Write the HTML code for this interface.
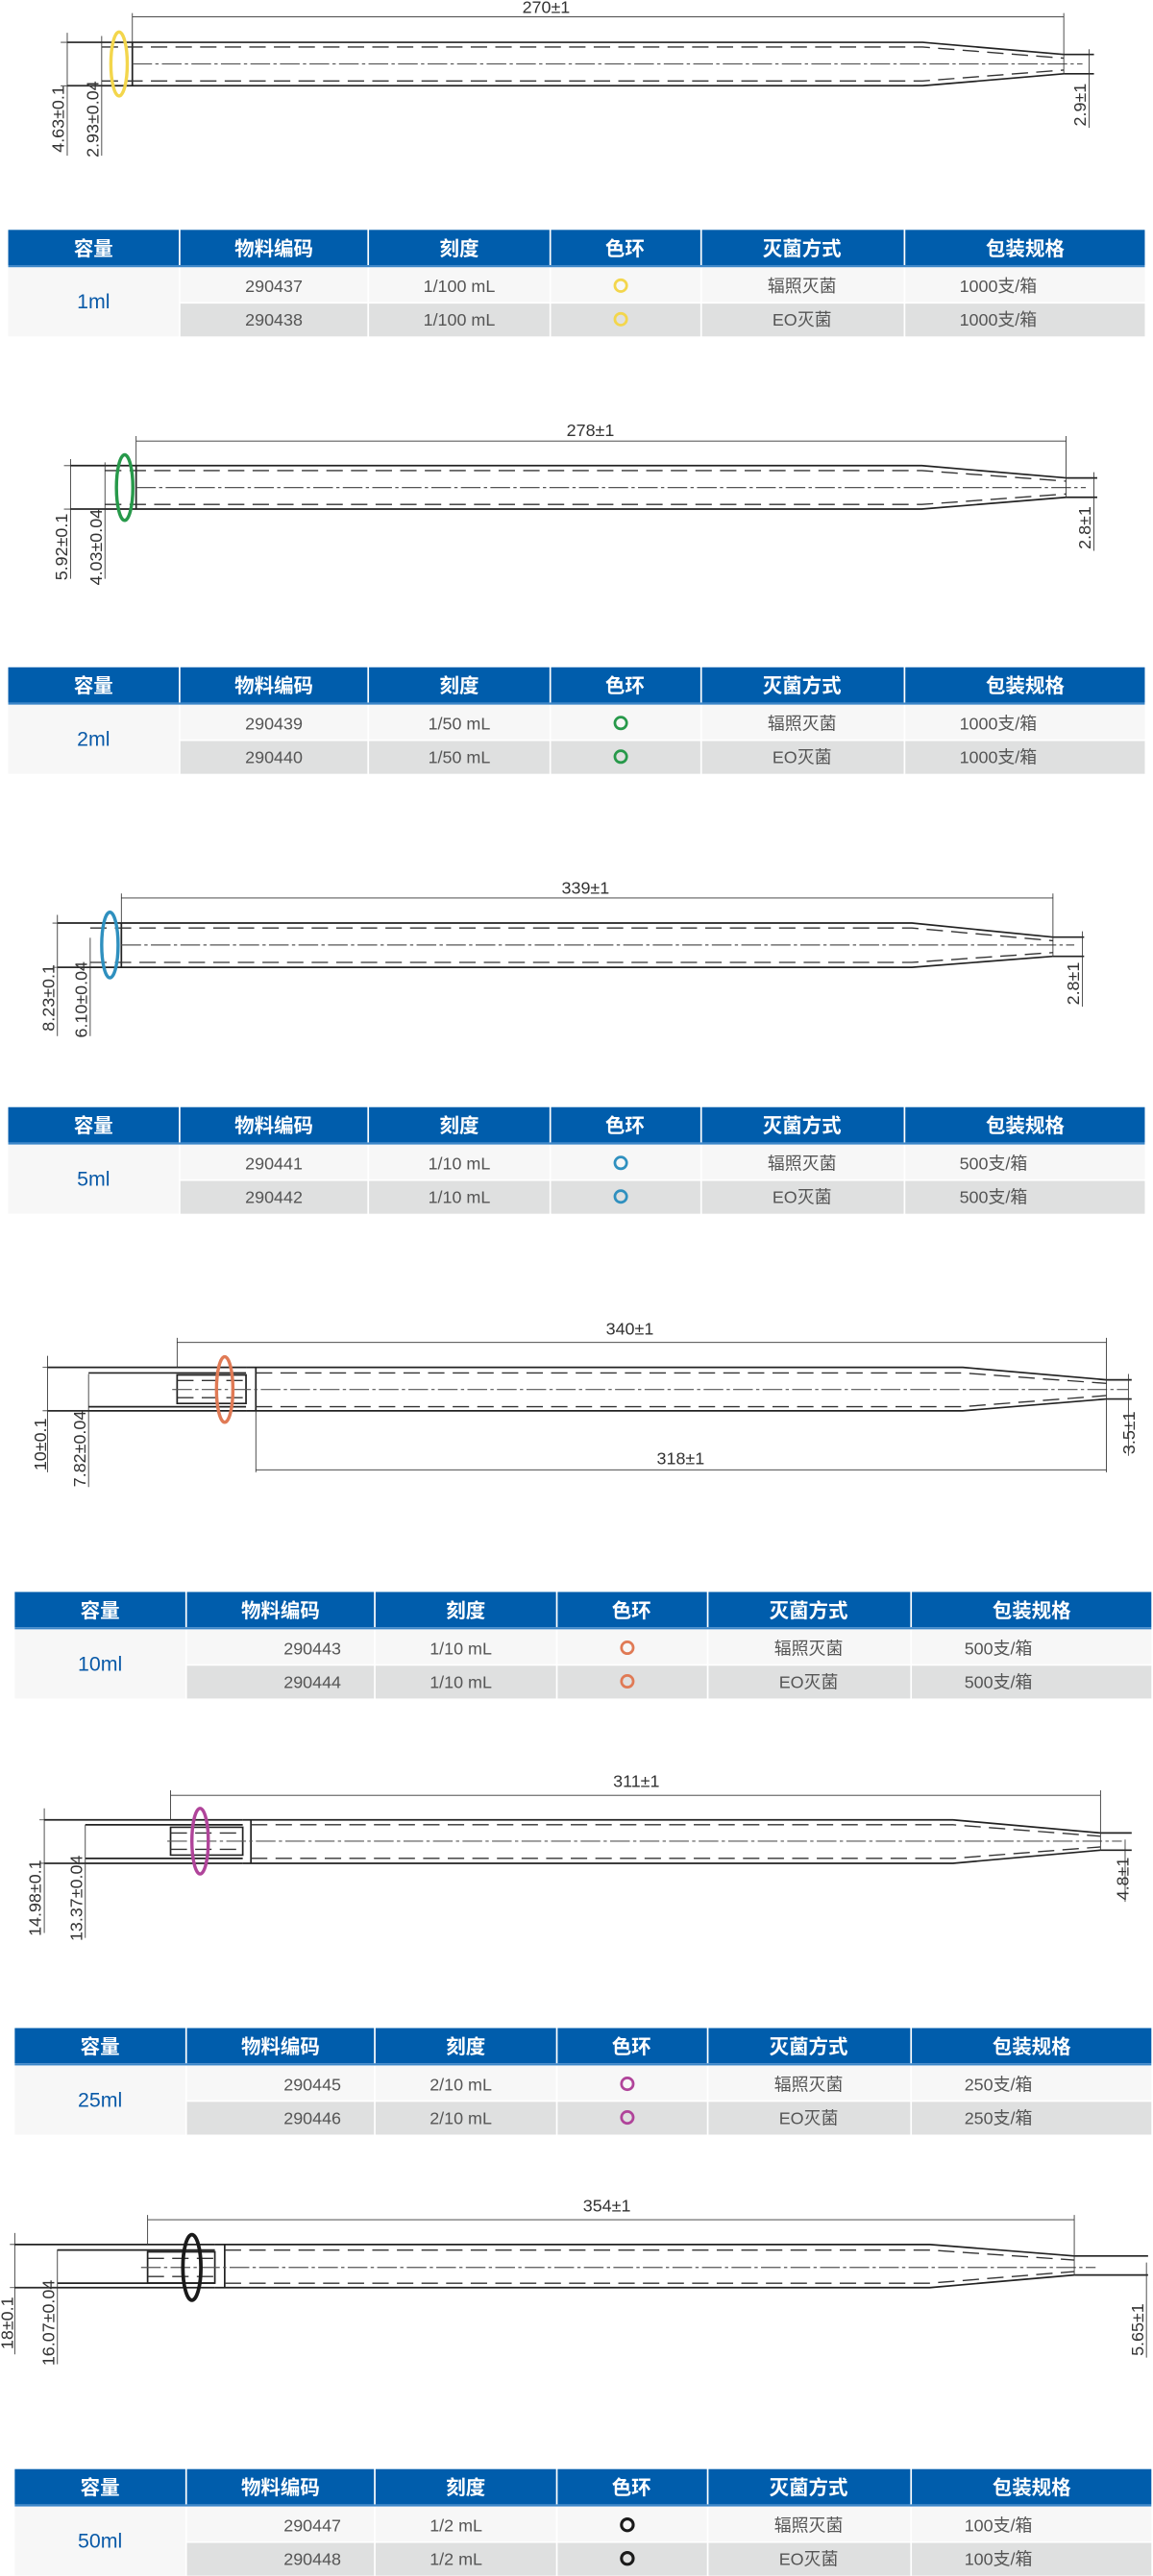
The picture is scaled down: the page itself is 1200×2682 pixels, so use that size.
<!DOCTYPE html>
<html><head><meta charset="utf-8">
<style>
html,body{margin:0;padding:0;background:#fff;}
svg{display:block;}
.o{stroke:#222;stroke-width:1;fill:none;}
.d{stroke:#333;stroke-width:0.8;fill:none;stroke-dasharray:10 5;}
.c{stroke:#555;stroke-width:0.7;fill:none;stroke-dasharray:12 2 2 2;}
.t{stroke:#333;stroke-width:0.5;fill:none;}
.dt{font-family:"Liberation Sans",sans-serif;font-size:10.5px;fill:#333;}
.th{font-family:"Liberation Sans","Noto Sans CJK SC",sans-serif;font-size:12px;font-weight:bold;fill:#fff;text-anchor:middle;}
.td{font-family:"Liberation Sans","Noto Sans CJK SC",sans-serif;font-size:10.5px;fill:#555;}
.cap{font-family:"Liberation Sans",sans-serif;font-size:12.5px;fill:#0a5aa8;text-anchor:middle;}
</style></head><body>
<svg width="1200" height="2682" viewBox="0 0 703 1571.2" xmlns="http://www.w3.org/2000/svg">
<defs>
<g id="hdr">
 <rect x="0" y="0" width="104" height="21.5" fill="#005dac"/>
 <rect x="105" y="0" width="114" height="21.5" fill="#005dac"/>
 <rect x="220" y="0" width="110" height="21.5" fill="#005dac"/>
 <rect x="331" y="0" width="91" height="21.5" fill="#005dac"/>
 <rect x="423" y="0" width="123" height="21.5" fill="#005dac"/>
 <rect x="547" y="0" width="146" height="21.5" fill="#005dac"/>
 <rect x="0" y="21.5" width="693" height="1.3" fill="#3c86c8"/>
 <text class="th" x="52" y="15.5">容量</text>
 <text class="th" x="162" y="15.5">物料编码</text>
 <text class="th" x="275" y="15.5">刻度</text>
 <text class="th" x="376" y="15.5">色环</text>
 <text class="th" x="484" y="15.5">灭菌方式</text>
 <text class="th" x="620" y="15.5">包装规格</text>
 <rect x="0" y="23" width="104" height="42" fill="#f7f7f7"/>
 <rect x="105" y="23" width="114" height="21" fill="#f7f7f7"/>
 <rect x="220" y="23" width="110" height="21" fill="#f7f7f7"/>
 <rect x="331" y="23" width="91" height="21" fill="#f7f7f7"/>
 <rect x="423" y="23" width="123" height="21" fill="#f7f7f7"/>
 <rect x="547" y="23" width="146" height="21" fill="#f7f7f7"/>
 <rect x="105" y="45" width="114" height="20" fill="#dfe0e0"/>
 <rect x="220" y="45" width="110" height="20" fill="#dfe0e0"/>
 <rect x="331" y="45" width="91" height="20" fill="#dfe0e0"/>
 <rect x="423" y="45" width="123" height="20" fill="#dfe0e0"/>
 <rect x="547" y="45" width="146" height="20" fill="#dfe0e0"/>
</g>
</defs>

<!-- ===== Tube 1 ===== -->
<g>
 <path class="o" d="M41 25.8H562.5L648.6 33.2M41 52.3H562.5L648.6 45"/>
 <path class="o" d="M80.7 25.8V52.3"/>
 <path class="d" d="M62 28.7H562.5L648.6 35.5M62 49.4H562.5L648.6 42.7"/>
 <path class="c" d="M80.7 39H660"/>
 <path class="o" d="M648.6 33.2H667M648.6 45H667"/>
 <path class="t" d="M80.7 8V25.8M648.6 8V45M80.7 10.2H648.6M41 20V95M62 22V95M37 25.8H41M37 52.3H62M664 30V78"/>
 <ellipse cx="72.6" cy="39" rx="5" ry="19.5" fill="none" stroke="#f3d64c" stroke-width="2"/>
 <text class="dt" x="333" y="8" text-anchor="middle">270±1</text>
 <text class="dt" transform="translate(39,93) rotate(-90)">4.63±0.1</text>
 <text class="dt" transform="translate(60,96) rotate(-90)">2.93±0.04</text>
 <text class="dt" transform="translate(662,77) rotate(-90)">2.9±1</text>
</g>
<g transform="translate(5,140.2)">
 <use href="#hdr"/>
 <text class="cap" x="52" y="48">1ml</text>
 <text class="td" x="162" y="38" text-anchor="middle">290437</text>
 <text class="td" x="275" y="38" text-anchor="middle">1/100 mL</text>
 <circle cx="373.5" cy="34" r="3.6" fill="none" stroke="#f3d64c" stroke-width="1.6"/>
 <text class="td" x="484" y="38" text-anchor="middle">辐照灭菌</text>
 <text class="td" x="580" y="38">1000支/箱</text>
 <text class="td" x="162" y="58.5" text-anchor="middle">290438</text>
 <text class="td" x="275" y="58.5" text-anchor="middle">1/100 mL</text>
 <circle cx="373.5" cy="54.5" r="3.6" fill="none" stroke="#f3d64c" stroke-width="1.6"/>
 <text class="td" x="484" y="58.5" text-anchor="middle">EO灭菌</text>
 <text class="td" x="580" y="58.5">1000支/箱</text>
</g>

<!-- ===== Tube 2 ===== -->
<g>
 <path class="o" d="M43 284H562L650 291.5M43 310.5H562L650 303.3"/>
 <path class="o" d="M83 284V310.5"/>
 <path class="d" d="M64 287H562L650 293.5M64 307.7H562L650 301.3"/>
 <path class="c" d="M83 297.4H662"/>
 <path class="o" d="M650 291.5H669M650 303.3H669"/>
 <path class="t" d="M83 266V284M650 266V303.3M83 269H650M43 280V353M64 282V353M39 284H43M39 310.5H64M667 288V336"/>
 <ellipse cx="76" cy="297.4" rx="5" ry="20" fill="none" stroke="#27994a" stroke-width="2"/>
 <text class="dt" x="360" y="266" text-anchor="middle">278±1</text>
 <text class="dt" transform="translate(41,354) rotate(-90)">5.92±0.1</text>
 <text class="dt" transform="translate(62,357) rotate(-90)">4.03±0.04</text>
 <text class="dt" transform="translate(665,335) rotate(-90)">2.8±1</text>
</g>
<g transform="translate(5,407)">
 <use href="#hdr"/>
 <text class="cap" x="52" y="48">2ml</text>
 <text class="td" x="162" y="38" text-anchor="middle">290439</text>
 <text class="td" x="275" y="38" text-anchor="middle">1/50 mL</text>
 <circle cx="373.5" cy="34" r="3.6" fill="none" stroke="#27994a" stroke-width="1.6"/>
 <text class="td" x="484" y="38" text-anchor="middle">辐照灭菌</text>
 <text class="td" x="580" y="38">1000支/箱</text>
 <text class="td" x="162" y="58.5" text-anchor="middle">290440</text>
 <text class="td" x="275" y="58.5" text-anchor="middle">1/50 mL</text>
 <circle cx="373.5" cy="54.5" r="3.6" fill="none" stroke="#27994a" stroke-width="1.6"/>
 <text class="td" x="484" y="58.5" text-anchor="middle">EO灭菌</text>
 <text class="td" x="580" y="58.5">1000支/箱</text>
</g>

<!-- ===== Tube 3 ===== -->
<g>
 <path class="o" d="M35 563H556L642 571.6M35 590H556L642 583.3"/>
 <path class="o" d="M74 563V590"/>
 <path class="d" d="M55 566H556L642 573.8M55 587H556L642 581"/>
 <path class="c" d="M74 576.4H655"/>
 <path class="o" d="M642 571.6H661M642 583.3H661"/>
 <path class="t" d="M74 545V563M642 545V583.3M74 547.7H642M35 558V632M55 572V632M32 563H35M32 590H55M660 568V614"/>
 <ellipse cx="67" cy="576.4" rx="5" ry="20" fill="none" stroke="#2f90bf" stroke-width="2"/>
 <text class="dt" x="357" y="545" text-anchor="middle">339±1</text>
 <text class="dt" transform="translate(33,629) rotate(-90)">8.23±0.1</text>
 <text class="dt" transform="translate(53,633) rotate(-90)">6.10±0.04</text>
 <text class="dt" transform="translate(658,613) rotate(-90)">2.8±1</text>
</g>
<g transform="translate(5,675.3)">
 <use href="#hdr"/>
 <text class="cap" x="52" y="48">5ml</text>
 <text class="td" x="162" y="38" text-anchor="middle">290441</text>
 <text class="td" x="275" y="38" text-anchor="middle">1/10 mL</text>
 <circle cx="373.5" cy="34" r="3.6" fill="none" stroke="#2f90bf" stroke-width="1.6"/>
 <text class="td" x="484" y="38" text-anchor="middle">辐照灭菌</text>
 <text class="td" x="580" y="38">500支/箱</text>
 <text class="td" x="162" y="58.5" text-anchor="middle">290442</text>
 <text class="td" x="275" y="58.5" text-anchor="middle">1/10 mL</text>
 <circle cx="373.5" cy="54.5" r="3.6" fill="none" stroke="#2f90bf" stroke-width="1.6"/>
 <text class="td" x="484" y="58.5" text-anchor="middle">EO灭菌</text>
 <text class="td" x="580" y="58.5">500支/箱</text>
</g>

<!-- ===== Tube 4 ===== -->
<g>
 <path class="o" d="M29 834H150M29 860.5H150M54 837.4H150M54 858H150"/>
 <path class="o" d="M108 838.6H150V856H108Z"/>
 <path class="o" d="M150 834H587L674.6 841.6M150 860.5H587L674.6 853.3M156 834V860.5"/>
 <path class="d" d="M156 837.4H587L674.6 843.8M156 858H587L674.6 851.2M108 842H150M108 852.5H150"/>
 <path class="c" d="M105 847.5H688"/>
 <path class="o" d="M674.6 841.6H690M674.6 853.3H690"/>
 <path class="t" d="M108 816V834M674.6 816V898M108 818.8H674.6M156 860.5V898M156 896.5H674.6M29 827V898M54 838V907M26 834H29M26 860.5H54M688 838V888"/>
 <ellipse cx="137" cy="847.5" rx="5" ry="20" fill="none" stroke="#e07a55" stroke-width="2"/>
 <text class="dt" x="384" y="814" text-anchor="middle">340±1</text>
 <text class="dt" x="415" y="893" text-anchor="middle">318±1</text>
 <text class="dt" transform="translate(28,897) rotate(-90)">10±0.1</text>
 <text class="dt" transform="translate(52,907) rotate(-90)">7.82±0.04</text>
 <text class="dt" transform="translate(692,887) rotate(-90)">3.5±1</text>
</g>
<g transform="translate(9,971)">
 <use href="#hdr"/>
 <text class="cap" x="52" y="48">10ml</text>
 <text class="td" x="199" y="38" text-anchor="end">290443</text>
 <text class="td" x="253" y="38">1/10 mL</text>
 <circle cx="373.5" cy="34" r="3.6" fill="none" stroke="#e07a55" stroke-width="1.6"/>
 <text class="td" x="484" y="38" text-anchor="middle">辐照灭菌</text>
 <text class="td" x="579" y="38">500支/箱</text>
 <text class="td" x="199" y="58.5" text-anchor="end">290444</text>
 <text class="td" x="253" y="58.5">1/10 mL</text>
 <circle cx="373.5" cy="54.5" r="3.6" fill="none" stroke="#e07a55" stroke-width="1.6"/>
 <text class="td" x="484" y="58.5" text-anchor="middle">EO灭菌</text>
 <text class="td" x="579" y="58.5">500支/箱</text>
</g>

<!-- ===== Tube 5 ===== -->
<g>
 <path class="o" d="M27 1110H148M27 1136.5H148M52 1113H148M52 1133.5H148"/>
 <path class="o" d="M104 1114.5H148V1131.5H104Z"/>
 <path class="o" d="M148 1110H581L671 1118M148 1136.5H581L671 1128.5M153 1110V1136.5"/>
 <path class="d" d="M153 1113H581L671 1120M153 1133.5H581L671 1126.5M104 1118H148M104 1128H148"/>
 <path class="c" d="M102 1123H684"/>
 <path class="o" d="M671 1118H690M671 1128.5H690"/>
 <path class="t" d="M104 1092V1110M671 1092V1128.5M104 1095H671M27 1103V1179M52 1113V1182M24 1110H27M24 1136.5H52M686 1122V1160"/>
 <ellipse cx="122" cy="1123" rx="5" ry="20" fill="none" stroke="#b0449a" stroke-width="2"/>
 <text class="dt" x="388" y="1090" text-anchor="middle">311±1</text>
 <text class="dt" transform="translate(25,1181) rotate(-90)">14.98±0.1</text>
 <text class="dt" transform="translate(50,1184) rotate(-90)">13.37±0.04</text>
 <text class="dt" transform="translate(688,1159) rotate(-90)">4.8±1</text>
</g>
<g transform="translate(9,1237)">
 <use href="#hdr"/>
 <text class="cap" x="52" y="48">25ml</text>
 <text class="td" x="199" y="38" text-anchor="end">290445</text>
 <text class="td" x="253" y="38">2/10 mL</text>
 <circle cx="373.5" cy="34" r="3.6" fill="none" stroke="#b0449a" stroke-width="1.6"/>
 <text class="td" x="484" y="38" text-anchor="middle">辐照灭菌</text>
 <text class="td" x="579" y="38">250支/箱</text>
 <text class="td" x="199" y="58.5" text-anchor="end">290446</text>
 <text class="td" x="253" y="58.5">2/10 mL</text>
 <circle cx="373.5" cy="54.5" r="3.6" fill="none" stroke="#b0449a" stroke-width="1.6"/>
 <text class="td" x="484" y="58.5" text-anchor="middle">EO灭菌</text>
 <text class="td" x="579" y="58.5">250支/箱</text>
</g>

<!-- ===== Tube 6 ===== -->
<g>
 <path class="o" d="M9 1369H131M9 1395.3H131M35 1372.4H131M35 1392.6H131"/>
 <path class="o" d="M90 1373.5H131V1392.5H90Z"/>
 <path class="o" d="M131 1369H567L655 1376M131 1395.3H567L655 1387.6M137 1369V1395.3"/>
 <path class="d" d="M137 1372.4H567L655 1378.5M137 1392.6H567L655 1385.5M90 1377.5H131M90 1388.5H131"/>
 <path class="c" d="M86 1383H668"/>
 <path class="o" d="M655 1376H700M655 1387.6H700"/>
 <path class="t" d="M90 1351V1369M655 1351V1387.6M90 1353.9H655M9 1362V1436M35 1372V1442M6 1369H9M6 1395.3H35M699 1380V1438"/>
 <ellipse cx="117" cy="1383" rx="5.5" ry="20" fill="none" stroke="#1a1a1a" stroke-width="2.2"/>
 <text class="dt" x="370" y="1349" text-anchor="middle">354±1</text>
 <text class="dt" transform="translate(8,1433) rotate(-90)">18±0.1</text>
 <text class="dt" transform="translate(33,1443) rotate(-90)">16.07±0.04</text>
 <text class="dt" transform="translate(697,1437) rotate(-90)">5.65±1</text>
</g>
<g transform="translate(9,1506)">
 <use href="#hdr"/>
 <text class="cap" x="52" y="48">50ml</text>
 <text class="td" x="199" y="38" text-anchor="end">290447</text>
 <text class="td" x="253" y="38">1/2 mL</text>
 <circle cx="373.5" cy="34" r="3.6" fill="none" stroke="#1a1a1a" stroke-width="1.8"/>
 <text class="td" x="484" y="38" text-anchor="middle">辐照灭菌</text>
 <text class="td" x="579" y="38">100支/箱</text>
 <text class="td" x="199" y="58.5" text-anchor="end">290448</text>
 <text class="td" x="253" y="58.5">1/2 mL</text>
 <circle cx="373.5" cy="54.5" r="3.6" fill="none" stroke="#1a1a1a" stroke-width="1.8"/>
 <text class="td" x="484" y="58.5" text-anchor="middle">EO灭菌</text>
 <text class="td" x="579" y="58.5">100支/箱</text>
</g>
</svg>
</body></html>
